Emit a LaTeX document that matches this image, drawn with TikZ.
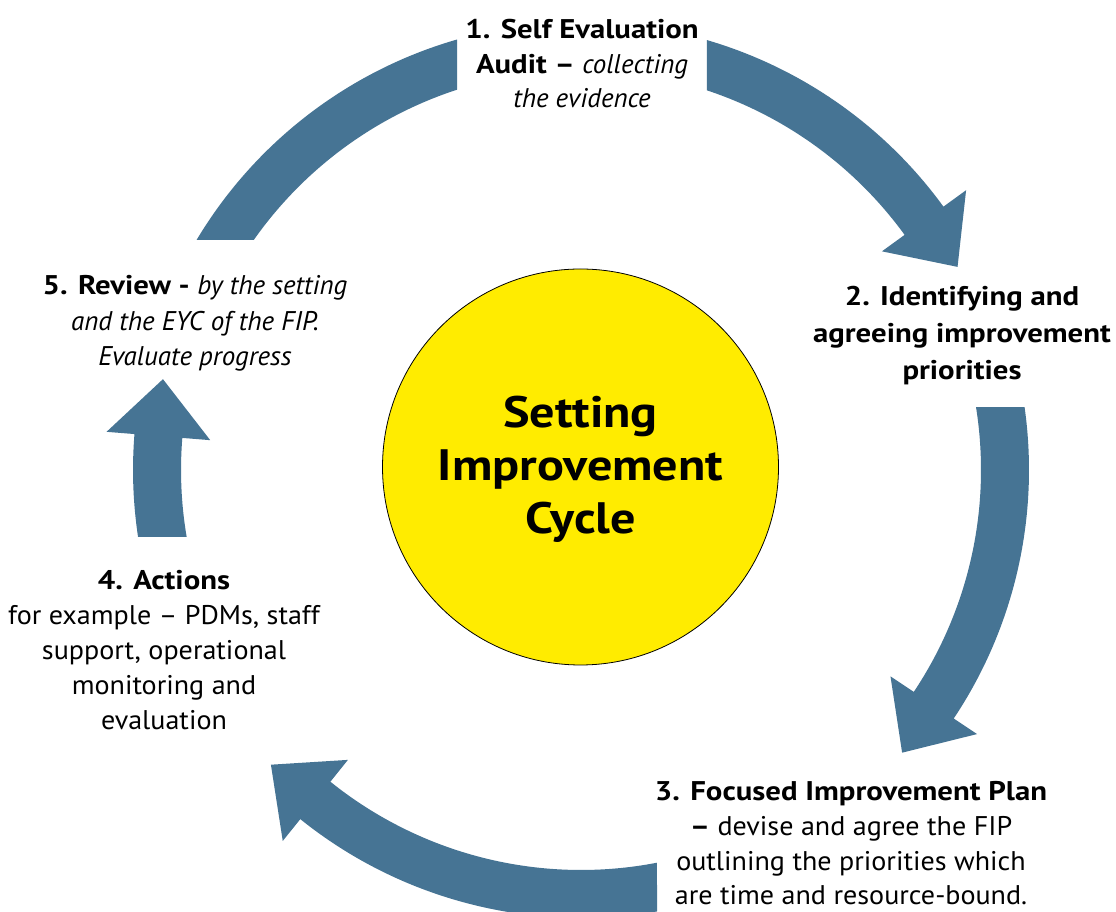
\documentclass[tikz,border=0pt]{standalone}
\usepackage{fontspec}
\setmainfont{PT Sans}[UprightFeatures={FakeStretch=1.04}, BoldFeatures={FakeStretch=1.14}]
\usetikzlibrary{calc}
\definecolor{arrowblue}{RGB}{70,116,148}
\definecolor{cycleyellow}{RGB}{255,236,0}
\begin{document}
\begin{tikzpicture}[x=1pt,y=1pt,
  cyclearrow/.style={fill=arrowblue, draw=none},
  lbl/.style={align=center, anchor=base, inner sep=0pt, font=\fontsize{27}{35}\selectfont},
  hubtext/.style={align=center, font=\fontsize{44}{53}\selectfont\bfseries}
]
\useasboundingbox (0,0) rectangle (1116,912);
\fill[white] (0,0) rectangle (1116,912);
\coordinate (C) at (581,442);

% arrow 1 (top), left piece
\fill[cyclearrow] ($(C)+(149.11:448)$) arc[start angle=149.11, end angle=106.07, radius=448]
  -- ($(C)+(108.06:400)$) arc[start angle=108.06, end angle=144.90, radius=400] -- cycle;
% arrow 1, right piece with head
\fill[cyclearrow] ($(C)+(73.67:448)$) arc[start angle=73.67, end angle=36, radius=448]
  -- ($(C)+(36:476)$) -- ($(C)+(36:424)+(-54:57)$) -- ($(C)+(36:372)$)
  -- ($(C)+(36:400)$) arc[start angle=36, end angle=71.64, radius=400] -- cycle;
% arrow 2 (right)
\fill[cyclearrow] ($(C)+(8.08:448)$) arc[start angle=8.08, end angle=-33.7, radius=448]
  -- ($(C)+(-33.7:476)$) -- ($(C)+(-33.7:424)+(-123.7:57)$) -- ($(C)+(-33.7:372)$)
  -- ($(C)+(-33.7:400)$) arc[start angle=-33.7, end angle=9.06, radius=400] -- cycle;
% arrow 3 (bottom)
\fill[cyclearrow] ($(C)+(-80.23:448)$) arc[start angle=-80.23, end angle=-128.8, radius=448]
  -- ($(C)+(-128.8:476)$) -- ($(C)+(-128.8:424)+(-218.8:57)$) -- ($(C)+(-128.8:372)$)
  -- ($(C)+(-128.8:400)$) arc[start angle=-128.8, end angle=-79.05, radius=400] -- cycle;
% arrow 4 (left)
\fill[cyclearrow] ($(C)+(188.6:448)$) arc[start angle=188.6, end angle=175.4, radius=448]
  -- ($(C)+(175.4:476)$) -- ($(C)+(175.4:424)+(85.4:57)$) -- ($(C)+(175.4:372)$)
  -- ($(C)+(175.4:400)$) arc[start angle=175.4, end angle=189.64, radius=400] -- cycle;

% hub
\node[circle, fill=cycleyellow, draw=black, line width=0.8pt, minimum size=396pt, inner sep=0pt] (hub) at (580.5,445) {};
\node[hubtext] (hubtitle) at (580.5,443) {Setting\\Improvement\\Cycle};

% labels (anchor = baseline of the last line)
\node[lbl, font=\fontsize{27}{34.5}\selectfont] (step1) at (582,804) {\bfseries 1. Self Evaluation\\{\bfseries Audit –} \itshape collecting\\\itshape the evidence};
\node[lbl, font=\fontsize{27}{37}\selectfont\bfseries] (step2) at (962,532) {2. Identifying and\\agreeing improvement\\priorities};
\node[lbl, font=\fontsize{27}{34.7}\selectfont] (step3) at (851,7) {\bfseries 3. Focused Improvement Plan\\{\bfseries –} devise and agree the FIP\\outlining the priorities which\\are time and resource-bound.};
\node[lbl] (step4) at (164,182) {\bfseries 4. Actions\\for example – PDMs, staff\\support, operational\\monitoring and\\evaluation};
\node[lbl, font=\fontsize{27}{35.5}\selectfont] (step5) at (195,546) {{\bfseries 5. Review -} \itshape by the setting\\\itshape and the EYC of the FIP.\\\itshape Evaluate progress};
\end{tikzpicture}
\end{document}
